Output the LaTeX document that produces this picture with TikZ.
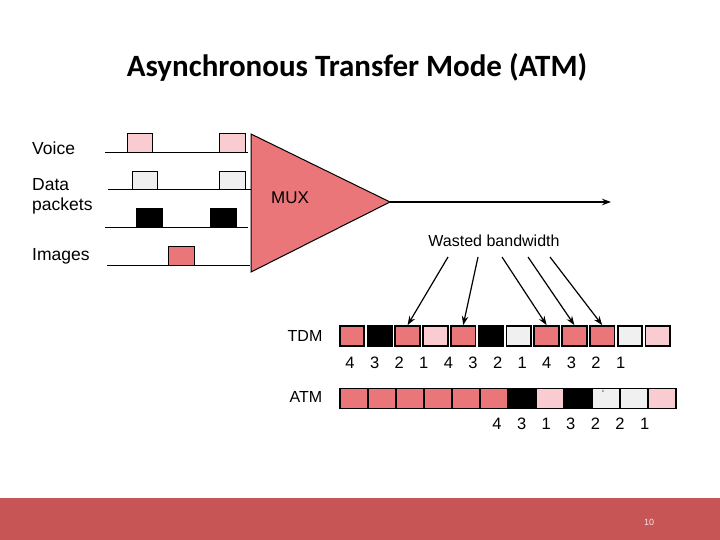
\documentclass[tikz,border=0pt]{standalone}
\usepackage{fontspec}
\setmainfont{Liberation Sans}
\newfontfamily\titlefont{Carlito}
\usetikzlibrary{arrows.meta}
\definecolor{cred}{RGB}{235,118,122}
\definecolor{cpink}{RGB}{248,204,208}
\definecolor{cgray}{RGB}{240,240,240}
\definecolor{cbar}{RGB}{200,85,85}
\begin{document}
\begin{tikzpicture}[x=1pt,y=-1pt,
  lbl/.style={font=\fontsize{17.5}{20}\selectfont,anchor=west,inner sep=0},
  pulse/.style={draw=black,line width=1pt},
  cell/.style={draw=black,line width=1.8pt,minimum width=26pt,minimum height=20pt,inner sep=0},
  num/.style={font=\fontsize{16.5}{19}\selectfont,inner sep=0},
  arr/.style={-{Stealth[length=9pt,width=6.5pt]},line width=1.2pt}]
\useasboundingbox (0,0) rectangle (720,540);
\fill[cbar] (0,498) rectangle (720,540);
\node[text=white!85!cbar,font=\fontsize{9}{10}\selectfont] (pg) at (649,522) {10};
\node[font=\titlefont\bfseries\fontsize{31}{36}\selectfont] (title) at (357,67) {Asynchronous Transfer Mode (ATM)};
% labels
\node[lbl] (voice) at (32,148) {Voice};
\node[lbl,align=left] (data) at (32,196) {Data\\packets};
\node[lbl] (img) at (32,256) {Images};
% lines
\draw[line width=1pt] (105,153) -- (248,153);
\draw[line width=1pt] (108,190) -- (255,190);
\draw[line width=1pt] (105,228) -- (248,228);
\draw[line width=1pt] (107,265) -- (250,265);
\filldraw[pulse,fill=cpink] (127,134) rectangle (152,153);
\filldraw[pulse,fill=cpink] (219,134) rectangle (245,153);
\filldraw[pulse,fill=cgray] (132,172) rectangle (157,190);
\filldraw[pulse,fill=cgray] (219,172) rectangle (245,190);
\filldraw[pulse,fill=black] (136,209) rectangle (162,228);
\filldraw[pulse,fill=black] (210,209) rectangle (236,228);
\filldraw[pulse,fill=cred] (168,246) rectangle (194,265);
% MUX
\filldraw[fill=cred,draw=black,line width=1pt] (251,134) -- (390,202) -- (251,272) -- cycle;
\node[font=\fontsize{17}{20}\selectfont] (mux) at (290,198) {MUX};
\coordinate (out) at (390,202);
\coordinate (outend) at (611,202);
\draw[arr] (out) -- (outend);
% wasted
\node[font=\fontsize{16}{19}\selectfont,inner sep=0] (wb) at (494,241) {Wasted bandwidth};
% TDM
\node[font=\fontsize{16}{19}\selectfont] (tdm) at (305,336) {TDM};
\foreach \c [count=\i from 0] in {cred,black,cred,cpink,cred,black,cgray,cred,cred,cred,cgray,cpink}
  \node[cell,minimum width=24.5pt,fill=\c] (t\i) at (352+27.8*\i,336) {};
\foreach \n [count=\i from 0] in {4,3,2,1,4,3,2,1,4,3,2,1}
  \node[num] (tn\i) at (350+24.6*\i,363) {\n};
% arrows
\coordinate (a1) at (448,257); \coordinate (a2) at (478,257);
\coordinate (a3) at (502,257); \coordinate (a4) at (528,257); \coordinate (a5) at (550,257);
\draw[arr] (a1) -- (t2.north);
\draw[arr] (a2) -- (t4.north);
\draw[arr] (a3) -- (t7.north);
\draw[arr] (a4) -- (t8.north);
\draw[arr] (a5) -- (t9.north);
% ATM
\node[font=\fontsize{16}{19}\selectfont] (atm) at (306,397) {ATM};
\foreach \c [count=\i from 0] in {cred,cred,cred,cred,cred,cred,black,cpink,black,cgray,cgray,cpink}
  \node[cell,minimum width=28pt,fill=\c] (m\i) at (354+28*\i,398.5) {};
\node[inner sep=0,font=\small] (tick) at (603,393) {`};
\foreach \n [count=\i from 0] in {4,3,1,3,2,2,1}
  \node[num] (mn\i) at (497+24.6*\i,424) {\n};
\end{tikzpicture}
\end{document}
